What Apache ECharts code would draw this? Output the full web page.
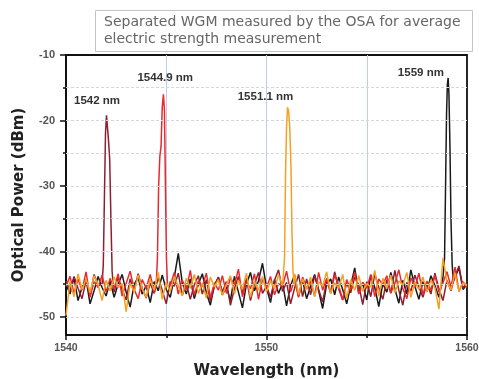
<!DOCTYPE html>
<html>
<head>
<meta charset="utf-8">
<script src="https://cdn.jsdelivr.net/npm/echarts@6/dist/echarts.min.js"></script>
<style>html,body{margin:0;padding:0;background:#fff}#c{width:479px;height:379px}</style>
</head>
<body>
<div id="c"></div>
<script>
// Wavelength grid (nm) shared by the noise floor of all traces
const wl = [1540,1540.2,1540.4,1540.6,1540.8,1541,1541.2,1541.4,1541.6,1541.8,
1542,1542.2,1542.4,1542.6,1542.8,1543,1543.2,1543.4,1543.6,1543.8,
1544,1544.2,1544.4,1544.6,1544.8,1545,1545.2,1545.4,1545.6,1545.8,
1546,1546.2,1546.4,1546.6,1546.8,1547,1547.2,1547.4,1547.6,1547.8,
1548,1548.2,1548.4,1548.6,1548.8,1549,1549.2,1549.4,1549.6,1549.8,
1550,1550.2,1550.4,1550.6,1550.8,1551,1551.2,1551.4,1551.6,1551.8,
1552,1552.2,1552.4,1552.6,1552.8,1553,1553.2,1553.4,1553.6,1553.8,
1554,1554.2,1554.4,1554.6,1554.8,1555,1555.2,1555.4,1555.6,1555.8,
1556,1556.2,1556.4,1556.6,1556.8,1557,1557.2,1557.4,1557.6,1557.8,
1558,1558.2,1558.4,1558.6,1558.8,1559,1559.2,1559.4,1559.6,1559.8,1560];

// Noise floor values (dBm) for each trace
const noise1542 = [-44.5,-46,-43.8,-45.6,-47.2,-44.4,-46.8,-43.5,-45.2,-48.1,
-45,-44.7,-46.2,-43.9,-45.8,-47.4,-44.2,-46,-43.4,-45.6,
-47.1,-44.8,-46.4,-44,-45.9,-48,-44.6,-45.3,-43.3,-46.7,
-44.9,-47.3,-45.1,-43.7,-46.5,-44.3,-47.6,-45.4,-43.9,-46.2,
-44.6,-48.2,-45.7,-43.8,-46.3,-44.1,-47.5,-45,-43.2,-46.4,
-45.3,-47,-44.4,-42.8,-46.1,-44.7,-48,-45.6,-43.5,-46.9,
-44.2,-46.6,-43.7,-45.8,-47.7,-44.5,-46.2,-43.1,-45.7,-47.4,
-44.8,-46.3,-43.9,-45.1,-48.1,-44.6,-46.9,-43.4,-45.5,-47.3,
-44.3,-46.4,-42.9,-45.9,-48.2,-44.7,-46.1,-43.6,-45.4,-47,
-44.9,-46.5,-43.3,-45.7,-47.5,-44.4,-46,-43.8,-42.2,-45.6,-44.8];

const noise1544 = [-45.3,-43.8,-46.4,-44.2,-45.9,-43.1,-47,-44.6,-45.5,-43.6,
-46.2,-44.1,-45.7,-43.4,-46.8,-44.9,-43,-45.8,-47.2,-44.3,
-45.6,-43.5,-46.3,-44.8,-46.1,-43.9,-45.2,-43.2,-46.5,-44.4,
-45.8,-42.9,-46.7,-44.5,-45.4,-43.3,-47.1,-44.8,-45.9,-43.7,
-46.4,-44,-45.1,-42.7,-46.9,-44.6,-45.7,-43.4,-47.3,-44.2,
-45.5,-43.8,-46.6,-44.9,-45.3,-43,-46.2,-44.4,-47,-43.9,
-45.7,-44.5,-46.8,-43.2,-45.9,-44.1,-46.4,-43.6,-45.2,-47.4,
-44.3,-45.8,-43.1,-46.5,-44.7,-45.6,-43.5,-46.9,-44.2,-45.1,
-43.7,-46.3,-44.9,-42.8,-45.7,-47.2,-44,-45.5,-43.3,-46.6,
-44.5,-45.9,-43.6,-46.2,-44.8,-43.1,-45.4,-42.4,-46.1,-44.6,-45.5];

const noise1551 = [-49.8,-44.6,-46.9,-43.4,-45.8,-44.2,-46.3,-43.7,-45.1,-47.5,
-44.4,-46,-43.9,-45.5,-44.9,-49.2,-44.8,-46.2,-43.6,-45.7,
-47,-44.3,-45.9,-43.2,-47.3,-44.7,-46.1,-43.8,-45.3,-46.8,
-44.1,-45.6,-43.5,-46.4,-44.8,-47.1,-43.9,-45.4,-44.3,-46.7,
-45,-43.7,-46.5,-44.4,-45.8,-43.3,-47,-44.6,-45.9,-43.8,
-46.2,-44.5,-45.7,-43.6,-45.2,-44.9,-45.5,-43.4,-46.6,-44.2,
-45.8,-43.9,-46.9,-44.6,-45.3,-43.1,-46.4,-44.8,-45.6,-43.5,
-47.2,-44.3,-45.9,-43.7,-46.1,-44.9,-45.4,-42.9,-46.8,-44.1,
-45.7,-43.6,-46.3,-44.5,-45.1,-43.2,-47,-44.7,-45.8,-43.9,
-46.2,-44.4,-45.5,-48.8,-41,-44.6,-45.9,-43.3,-46,-44.8,-45.2];

const noise1559 = [-45,-46.5,-44,-47.5,-45.5,-44.2,-48,-46,-43.8,-45.5,
-46.8,-44.5,-47,-45,-43.5,-46.2,-48.5,-45,-44,-46.5,
-45.2,-47.8,-44.6,-46,-43.6,-45.8,-47,-44,-40.3,-44.8,
-46.5,-44.2,-47.2,-45,-43.4,-46.3,-48.2,-45.1,-44,-46.6,
-45.4,-47.5,-43.8,-46.2,-48.6,-45,-43.2,-46,-44.5,-41.8,
-45.5,-47.8,-44.3,-46.4,-44.8,-48.3,-45.2,-43.6,-46.8,-44.4,
-47.2,-45.3,-43.5,-46,-48.7,-45,-44.2,-46.6,-43.9,-45.8,
-48,-45.2,-42.5,-46.3,-44.8,-47.4,-43.6,-45.5,-48.4,-44.9,
-46.2,-43.2,-45.7,-47.9,-44.4,-46.5,-42.8,-45.3,-47.3,-44.6,
-46.1,-43.7,-45.2,-47,-44,-44,-44,-44.5,-42.5,-45.8,-45];

// Resonance peaks: [wavelength nm, power dBm]
const peak1542 = [[1541.8,-45],[1541.86,-42],[1541.92,-31],[1541.97,-22],[1542.02,-19.2],[1542.07,-19.5],[1542.12,-23],[1542.18,-26],[1542.24,-35],[1542.3,-43],[1542.36,-45.5]];
const peak1544 = [[1544.5,-45],[1544.56,-41],[1544.62,-30],[1544.68,-25.5],[1544.74,-24],[1544.8,-18],[1544.86,-16],[1544.91,-18.5],[1544.96,-30],[1545.01,-41],[1545.06,-45]];
const peak1551 = [[1550.84,-45],[1550.9,-41],[1550.95,-28],[1551.0,-21],[1551.05,-18],[1551.1,-18.5],[1551.16,-21],[1551.22,-27],[1551.27,-37],[1551.32,-43],[1551.37,-45]];
const peak1559 = [[1558.8,-44],[1558.88,-41],[1558.94,-28],[1558.98,-19],[1559.02,-14.5],[1559.06,-13.5],[1559.1,-16],[1559.15,-24],[1559.2,-35],[1559.26,-42],[1559.32,-44.5]];

// Peak annotation labels: text and its anchor in data units
const labelText = ['1542 nm','1544.9 nm','1551.1 nm','1559 nm'];
const labelPos = [[1541.55,-17.0],[1544.95,-13.5],[1549.95,-16.4],[1557.7,-12.75]];

const yLabels = [-50,-40,-30,-20,-10];
const yMinor = [-45,-35,-25,-15];
const yGrid = [-50,-45,-40,-35,-30,-25,-20,-15];

function merge(noise, peak) {
  const a = peak[0][0], b = peak[peak.length-1][0];
  const pts = [];
  wl.forEach((x,i)=>{ if (x < a || x > b) pts.push([x, noise[i]]); });
  peak.forEach(p=>pts.push(p));
  pts.sort((p,q)=>p[0]-q[0]);
  return pts;
}

const FONT = '"Liberation Sans", Arial, sans-serif';
const NAMEFONT = '"DejaVu Sans", sans-serif';
const chart = echarts.init(document.getElementById('c'), null, {renderer:'canvas'});

function labelMark(i) {
  return {
    symbol: 'circle', symbolSize: 0, silent: true,
    label: {show:true, position:'inside', formatter: labelText[i], fontFamily: FONT, fontSize: 11.5, fontWeight:'bold', color:'#333'},
    data: [{coord: labelPos[i], name: labelText[i]}]
  };
}

const lineBase = {type:'line', showSymbol:false, symbol:'none', animation:false, lineStyle:{width:1.5}};

chart.setOption({
  animation: false,
  backgroundColor: '#fff',
  grid: {left:66, right:12, top:55, bottom:44, outerBoundsMode:'none', containLabel:false, show:true, borderColor:'#111', borderWidth:1.8, backgroundColor:'transparent'},
  graphic: [
    {type:'rect', shape:{x:95.5, y:10.5, width:377, height:41}, style:{fill:'#fff', stroke:'#c4c4c4', lineWidth:1}, z:10},
    {type:'text', x:104, y:14, style:{text:'Separated WGM measured by the OSA for average\nelectric strength measurement', font:'14px "DejaVu Sans", sans-serif', fill:'#666', lineHeight:17}, z:11}
  ],
  xAxis: {
    type:'value', min:1540, max:1560, interval:10,
    name:'Wavelength (nm)', nameLocation:'middle', nameGap:29,
    nameTextStyle:{fontFamily:NAMEFONT, fontSize:15, fontWeight:'bold', color:'#222'},
    axisLine:{show:true, lineStyle:{color:'#111', width:2}},
    axisTick:{show:true, inside:false, length:5, lineStyle:{color:'#111', width:1.5}},
    minorTick:{show:true, splitNumber:2, length:3, lineStyle:{color:'#111', width:1.5}},
    axisLabel:{fontFamily:FONT, fontSize:10.5, fontWeight:'bold', color:'#555', margin:8, formatter: v=>String(v)},
    splitLine:{show:true, showMinLine:false, showMaxLine:false, lineStyle:{color:'#c2cbeb', width:1}},
    minorSplitLine:{show:true, lineStyle:{color:'#c2cbeb', width:1}}
  },
  yAxis: [{
    type:'value', min:-52.75, max:-10,
    name:'Optical Power (dBm)', nameLocation:'middle', nameGap:39,
    nameTextStyle:{fontFamily:NAMEFONT, fontSize:15, fontWeight:'bold', color:'#222'},
    axisLine:{show:true, lineStyle:{color:'#111', width:2}},
    axisTick:{show:true, inside:false, length:6, customValues: yLabels, lineStyle:{color:'#111', width:1.5}},
    axisLabel:{customValues: yLabels, fontFamily:FONT, fontSize:11, fontWeight:'bold', color:'#555', margin:11},
    splitLine:{show:false}
  },{
    type:'value', min:-52.75, max:-10, position:'left',
    axisLine:{show:false},
    axisTick:{show:true, inside:false, length:3, customValues: yMinor, lineStyle:{color:'#111', width:1.5}},
    axisLabel:{show:false, customValues: yMinor},
    splitLine:{show:false}
  }],
  series: [
    Object.assign({}, lineBase, {name:'1559', data: merge(noise1559, peak1559), color:'#1a1a1a', z:2,
      markLine:{silent:true, symbol:'none', label:{show:false}, lineStyle:{color:'#d4d5e0', type:[3,2], width:1},
        data: yGrid.map(v=>({yAxis:v}))},
      markPoint: labelMark(3)}),
    Object.assign({}, lineBase, {name:'1542', data: merge(noise1542, peak1542), color:'#8e1f30', z:3, markPoint: labelMark(0)}),
    Object.assign({}, lineBase, {name:'1544.9', data: merge(noise1544, peak1544), color:'#e82a30', z:4, markPoint: labelMark(1)}),
    Object.assign({}, lineBase, {name:'1551.1', data: merge(noise1551, peak1551), color:'#f5a024', z:5, markPoint: labelMark(2)})
  ]
});
</script>
</body>
</html>
